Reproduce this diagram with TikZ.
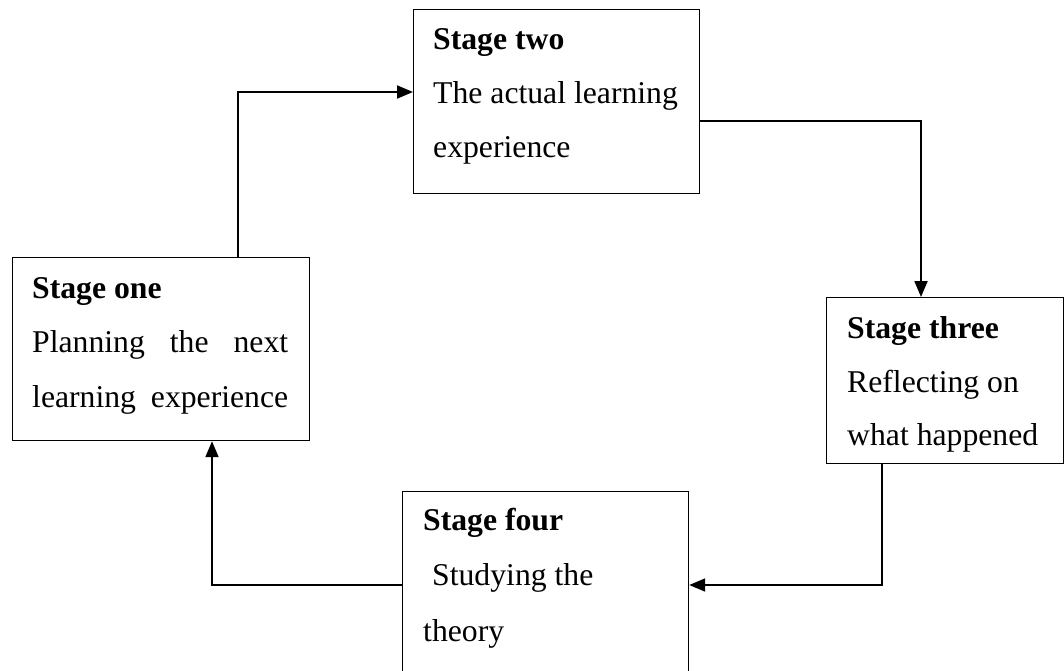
\documentclass[tikz,border=0pt]{standalone}
\usepackage{fontspec}
\setmainfont{Liberation Serif}
\usetikzlibrary{arrows.meta,calc}

\tikzset{
  stagebox/.style={draw=black, line width=1.2pt, rectangle, inner sep=0pt, anchor=north west},
  txt/.style={inner sep=0pt, anchor=base west, font=\fontsize{31.7}{54.5}\selectfont},
  arr/.style={draw=black, line width=1.9pt, -{Triangle[length=16pt,width=13pt]}},
}

\begin{document}
\begin{tikzpicture}[x=1pt, y=-1pt]
  \useasboundingbox (0,0) rectangle (1064,670);
  \fill[white] (0,0) rectangle (1064,670);
  \clip (0,0) rectangle (1064,670);

  % boxes
  \node[stagebox, minimum width=297pt, minimum height=183pt] (s1) at (12,257) {};
  \node[stagebox, minimum width=286pt, minimum height=184pt] (s2) at (413,9) {};
  \node[stagebox, minimum width=237pt, minimum height=166pt] (s3) at (826,297) {};
  \node[stagebox, minimum width=286pt, minimum height=200pt] (s4) at (402,491) {};

  % stage one
  \node[txt] (s1a) at (32,298) {\textbf{Stage one}};
  \node[txt] (s1b) at (32,352) {\makebox[256pt][s]{Planning the next}};
  \node[txt] (s1c) at (32,407) {\makebox[256pt][s]{learning experience}};

  % stage two
  \node[txt] (s2a) at (433,49) {\textbf{Stage two}};
  \node[txt] (s2b) at (433,103) {The actual learning};
  \node[txt] (s2c) at (433,157) {experience};

  % stage three
  \node[txt] (s3a) at (847,338) {\textbf{Stage three}};
  \node[txt] (s3b) at (847,392) {Reflecting on};
  \node[txt] (s3c) at (847,445) {what happened};

  % stage four
  \node[txt] (s4a) at (423,530) {\textbf{Stage four}};
  \node[txt] (s4b) at (432,585) {Studying the};
  \node[txt] (s4c) at (423,641) {theory};

  % cycle connectors
  \draw[arr] ($(s1.north west)+(226,0)$) |- ($(s2.north west)+(0,83)$);
  \draw[arr] ($(s2.north east)+(0,112)$) -| ($(s3.north west)+(95,0)$);
  \draw[arr] ($(s3.south west)+(56,0)$) |- ($(s4.north east)+(0,94)$);
  \draw[arr] ($(s4.north west)+(0,94)$) -| ($(s1.south west)+(200,0)$);
\end{tikzpicture}
\end{document}
